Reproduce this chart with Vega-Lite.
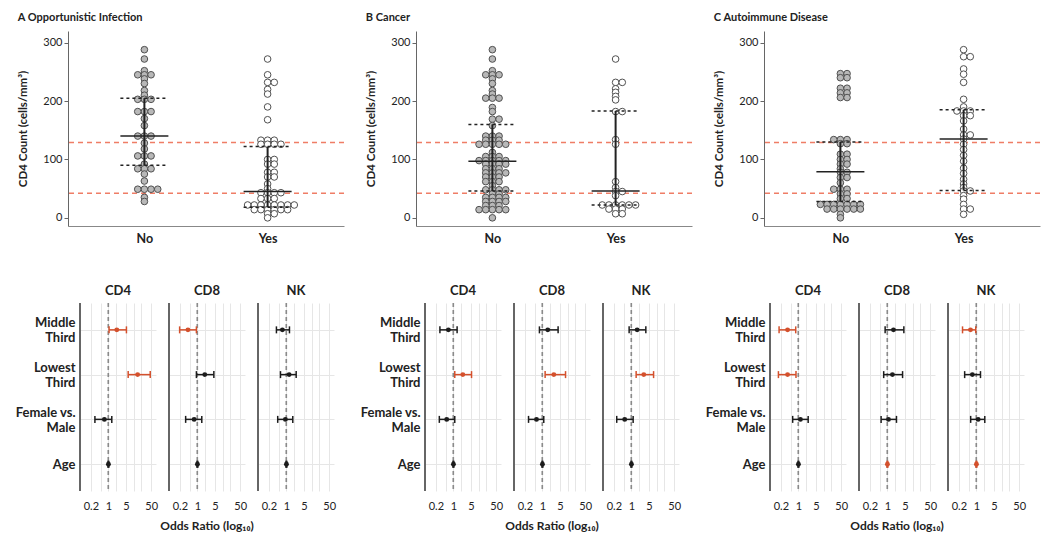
{
  "$schema": "https://vega.github.io/schema/vega-lite/v6.json",
  "background": "white",
  "padding": {"left": 14, "top": 12, "right": 5, "bottom": 5},
  "config": {
    "font": "Lato",
    "view": {"stroke": null},
    "axis": {"labelColor": "#222", "titleColor": "#222"},
    "title": {"color": "#222"}
  },
  "datasets": {
    "refs": [{"r": 129}, {"r": 42}],
    "summ": [
      {"p": "A", "g": "No", "med": 140, "q1": 90, "q3": 205},
      {"p": "A", "g": "Yes", "med": 45, "q1": 18, "q3": 122},
      {"p": "B", "g": "No", "med": 97, "q1": 46, "q3": 160},
      {"p": "B", "g": "Yes", "med": 46, "q1": 22, "q3": 183},
      {"p": "C", "g": "No", "med": 79, "q1": 28, "q3": 130},
      {"p": "C", "g": "Yes", "med": 135, "q1": 47, "q3": 185}
    ],
    "pts": [
      {"p":"A","g":"No","v":288},{"p":"A","g":"No","v":272},{"p":"A","g":"No","v":252},{"p":"A","g":"No","v":245},{"p":"A","g":"No","v":245},{"p":"A","g":"No","v":245},{"p":"A","g":"No","v":238},{"p":"A","g":"No","v":230},{"p":"A","g":"No","v":218},{"p":"A","g":"No","v":210},{"p":"A","g":"No","v":203},{"p":"A","g":"No","v":203},{"p":"A","g":"No","v":203},{"p":"A","g":"No","v":182},{"p":"A","g":"No","v":182},{"p":"A","g":"No","v":182},{"p":"A","g":"No","v":170},{"p":"A","g":"No","v":158},{"p":"A","g":"No","v":140},{"p":"A","g":"No","v":140},{"p":"A","g":"No","v":140},{"p":"A","g":"No","v":128},{"p":"A","g":"No","v":118},{"p":"A","g":"No","v":106},{"p":"A","g":"No","v":106},{"p":"A","g":"No","v":106},{"p":"A","g":"No","v":92},{"p":"A","g":"No","v":84},{"p":"A","g":"No","v":84},{"p":"A","g":"No","v":84},{"p":"A","g":"No","v":75},{"p":"A","g":"No","v":63},{"p":"A","g":"No","v":49},{"p":"A","g":"No","v":49},{"p":"A","g":"No","v":49},{"p":"A","g":"No","v":49},{"p":"A","g":"No","v":35},{"p":"A","g":"No","v":28},
      {"p":"A","g":"Yes","v":272},{"p":"A","g":"Yes","v":245},{"p":"A","g":"Yes","v":232},{"p":"A","g":"Yes","v":232},{"p":"A","g":"Yes","v":220},{"p":"A","g":"Yes","v":212},{"p":"A","g":"Yes","v":190},{"p":"A","g":"Yes","v":168},{"p":"A","g":"Yes","v":133},{"p":"A","g":"Yes","v":133},{"p":"A","g":"Yes","v":133},{"p":"A","g":"Yes","v":126},{"p":"A","g":"Yes","v":126},{"p":"A","g":"Yes","v":126},{"p":"A","g":"Yes","v":126},{"p":"A","g":"Yes","v":100},{"p":"A","g":"Yes","v":100},{"p":"A","g":"Yes","v":92},{"p":"A","g":"Yes","v":92},{"p":"A","g":"Yes","v":78},{"p":"A","g":"Yes","v":78},{"p":"A","g":"Yes","v":70},{"p":"A","g":"Yes","v":70},{"p":"A","g":"Yes","v":58},{"p":"A","g":"Yes","v":50},{"p":"A","g":"Yes","v":43},{"p":"A","g":"Yes","v":43},{"p":"A","g":"Yes","v":43},{"p":"A","g":"Yes","v":43},{"p":"A","g":"Yes","v":33},{"p":"A","g":"Yes","v":33},{"p":"A","g":"Yes","v":33},{"p":"A","g":"Yes","v":22},{"p":"A","g":"Yes","v":22},{"p":"A","g":"Yes","v":22},{"p":"A","g":"Yes","v":22},{"p":"A","g":"Yes","v":22},{"p":"A","g":"Yes","v":22},{"p":"A","g":"Yes","v":22},{"p":"A","g":"Yes","v":22},{"p":"A","g":"Yes","v":14},{"p":"A","g":"Yes","v":14},{"p":"A","g":"Yes","v":14},{"p":"A","g":"Yes","v":14},{"p":"A","g":"Yes","v":14},{"p":"A","g":"Yes","v":14},{"p":"A","g":"Yes","v":7},{"p":"A","g":"Yes","v":7},{"p":"A","g":"Yes","v":0},
      {"p":"B","g":"No","v":288},{"p":"B","g":"No","v":272},{"p":"B","g":"No","v":252},{"p":"B","g":"No","v":245},{"p":"B","g":"No","v":245},{"p":"B","g":"No","v":245},{"p":"B","g":"No","v":238},{"p":"B","g":"No","v":230},{"p":"B","g":"No","v":218},{"p":"B","g":"No","v":212},{"p":"B","g":"No","v":205},{"p":"B","g":"No","v":205},{"p":"B","g":"No","v":205},{"p":"B","g":"No","v":189},{"p":"B","g":"No","v":182},{"p":"B","g":"No","v":169},{"p":"B","g":"No","v":169},{"p":"B","g":"No","v":158},{"p":"B","g":"No","v":140},{"p":"B","g":"No","v":140},{"p":"B","g":"No","v":140},{"p":"B","g":"No","v":133},{"p":"B","g":"No","v":133},{"p":"B","g":"No","v":133},{"p":"B","g":"No","v":126},{"p":"B","g":"No","v":126},{"p":"B","g":"No","v":126},{"p":"B","g":"No","v":126},{"p":"B","g":"No","v":126},{"p":"B","g":"No","v":112},{"p":"B","g":"No","v":105},{"p":"B","g":"No","v":105},{"p":"B","g":"No","v":105},{"p":"B","g":"No","v":98},{"p":"B","g":"No","v":98},{"p":"B","g":"No","v":98},{"p":"B","g":"No","v":98},{"p":"B","g":"No","v":98},{"p":"B","g":"No","v":92},{"p":"B","g":"No","v":92},{"p":"B","g":"No","v":92},{"p":"B","g":"No","v":92},{"p":"B","g":"No","v":84},{"p":"B","g":"No","v":84},{"p":"B","g":"No","v":84},{"p":"B","g":"No","v":77},{"p":"B","g":"No","v":77},{"p":"B","g":"No","v":77},{"p":"B","g":"No","v":77},{"p":"B","g":"No","v":70},{"p":"B","g":"No","v":70},{"p":"B","g":"No","v":70},{"p":"B","g":"No","v":62},{"p":"B","g":"No","v":62},{"p":"B","g":"No","v":62},{"p":"B","g":"No","v":55},{"p":"B","g":"No","v":48},{"p":"B","g":"No","v":48},{"p":"B","g":"No","v":48},{"p":"B","g":"No","v":48},{"p":"B","g":"No","v":41},{"p":"B","g":"No","v":41},{"p":"B","g":"No","v":35},{"p":"B","g":"No","v":35},{"p":"B","g":"No","v":35},{"p":"B","g":"No","v":35},{"p":"B","g":"No","v":28},{"p":"B","g":"No","v":28},{"p":"B","g":"No","v":28},{"p":"B","g":"No","v":28},{"p":"B","g":"No","v":21},{"p":"B","g":"No","v":21},{"p":"B","g":"No","v":21},{"p":"B","g":"No","v":14},{"p":"B","g":"No","v":14},{"p":"B","g":"No","v":14},{"p":"B","g":"No","v":14},{"p":"B","g":"No","v":14},{"p":"B","g":"No","v":0},
      {"p":"B","g":"Yes","v":272},{"p":"B","g":"Yes","v":232},{"p":"B","g":"Yes","v":232},{"p":"B","g":"Yes","v":221},{"p":"B","g":"Yes","v":215},{"p":"B","g":"Yes","v":208},{"p":"B","g":"Yes","v":202},{"p":"B","g":"Yes","v":182},{"p":"B","g":"Yes","v":182},{"p":"B","g":"Yes","v":134},{"p":"B","g":"Yes","v":126},{"p":"B","g":"Yes","v":62},{"p":"B","g":"Yes","v":52},{"p":"B","g":"Yes","v":45},{"p":"B","g":"Yes","v":45},{"p":"B","g":"Yes","v":38},{"p":"B","g":"Yes","v":22},{"p":"B","g":"Yes","v":22},{"p":"B","g":"Yes","v":22},{"p":"B","g":"Yes","v":22},{"p":"B","g":"Yes","v":22},{"p":"B","g":"Yes","v":22},{"p":"B","g":"Yes","v":15},{"p":"B","g":"Yes","v":15},{"p":"B","g":"Yes","v":15},{"p":"B","g":"Yes","v":7},{"p":"B","g":"Yes","v":7},
      {"p":"C","g":"No","v":247},{"p":"C","g":"No","v":247},{"p":"C","g":"No","v":240},{"p":"C","g":"No","v":240},{"p":"C","g":"No","v":222},{"p":"C","g":"No","v":222},{"p":"C","g":"No","v":214},{"p":"C","g":"No","v":214},{"p":"C","g":"No","v":206},{"p":"C","g":"No","v":206},{"p":"C","g":"No","v":134},{"p":"C","g":"No","v":134},{"p":"C","g":"No","v":134},{"p":"C","g":"No","v":127},{"p":"C","g":"No","v":127},{"p":"C","g":"No","v":109},{"p":"C","g":"No","v":109},{"p":"C","g":"No","v":100},{"p":"C","g":"No","v":100},{"p":"C","g":"No","v":92},{"p":"C","g":"No","v":92},{"p":"C","g":"No","v":84},{"p":"C","g":"No","v":78},{"p":"C","g":"No","v":78},{"p":"C","g":"No","v":69},{"p":"C","g":"No","v":69},{"p":"C","g":"No","v":60},{"p":"C","g":"No","v":49},{"p":"C","g":"No","v":49},{"p":"C","g":"No","v":49},{"p":"C","g":"No","v":41},{"p":"C","g":"No","v":41},{"p":"C","g":"No","v":33},{"p":"C","g":"No","v":33},{"p":"C","g":"No","v":23},{"p":"C","g":"No","v":23},{"p":"C","g":"No","v":23},{"p":"C","g":"No","v":23},{"p":"C","g":"No","v":23},{"p":"C","g":"No","v":23},{"p":"C","g":"No","v":23},{"p":"C","g":"No","v":15},{"p":"C","g":"No","v":15},{"p":"C","g":"No","v":15},{"p":"C","g":"No","v":15},{"p":"C","g":"No","v":15},{"p":"C","g":"No","v":15},{"p":"C","g":"No","v":6},{"p":"C","g":"No","v":0},
      {"p":"C","g":"Yes","v":288},{"p":"C","g":"Yes","v":276},{"p":"C","g":"Yes","v":276},{"p":"C","g":"Yes","v":255},{"p":"C","g":"Yes","v":246},{"p":"C","g":"Yes","v":232},{"p":"C","g":"Yes","v":203},{"p":"C","g":"Yes","v":190},{"p":"C","g":"Yes","v":183},{"p":"C","g":"Yes","v":183},{"p":"C","g":"Yes","v":183},{"p":"C","g":"Yes","v":175},{"p":"C","g":"Yes","v":175},{"p":"C","g":"Yes","v":166},{"p":"C","g":"Yes","v":152},{"p":"C","g":"Yes","v":142},{"p":"C","g":"Yes","v":142},{"p":"C","g":"Yes","v":135},{"p":"C","g":"Yes","v":126},{"p":"C","g":"Yes","v":117},{"p":"C","g":"Yes","v":107},{"p":"C","g":"Yes","v":97},{"p":"C","g":"Yes","v":85},{"p":"C","g":"Yes","v":76},{"p":"C","g":"Yes","v":66},{"p":"C","g":"Yes","v":58},{"p":"C","g":"Yes","v":52},{"p":"C","g":"Yes","v":46},{"p":"C","g":"Yes","v":46},{"p":"C","g":"Yes","v":38},{"p":"C","g":"Yes","v":32},{"p":"C","g":"Yes","v":23},{"p":"C","g":"Yes","v":15},{"p":"C","g":"Yes","v":15},{"p":"C","g":"Yes","v":6}
    ],
    "forest": [
      {"p":"A","m":"CD4","t":"Middle Third","or":2.15,"lo":1.06,"hi":5.2,"s":"y"},
      {"p":"A","m":"CD4","t":"Lowest Third","or":14.5,"lo":6.1,"hi":46,"s":"y"},
      {"p":"A","m":"CD4","t":"Female vs. Male","or":0.69,"lo":0.29,"hi":1.36,"s":"n"},
      {"p":"A","m":"CD4","t":"Age","or":1.0,"lo":0.96,"hi":1.04,"s":"n"},
      {"p":"A","m":"CD8","t":"Middle Third","or":0.42,"lo":0.196,"hi":0.91,"s":"y"},
      {"p":"A","m":"CD8","t":"Lowest Third","or":1.96,"lo":0.91,"hi":4.5,"s":"n"},
      {"p":"A","m":"CD8","t":"Female vs. Male","or":0.74,"lo":0.34,"hi":1.49,"s":"n"},
      {"p":"A","m":"CD8","t":"Age","or":1.0,"lo":0.96,"hi":1.04,"s":"n"},
      {"p":"A","m":"NK","t":"Middle Third","or":0.69,"lo":0.4,"hi":1.32,"s":"n"},
      {"p":"A","m":"NK","t":"Lowest Third","or":1.28,"lo":0.58,"hi":2.44,"s":"n"},
      {"p":"A","m":"NK","t":"Female vs. Male","or":0.91,"lo":0.45,"hi":1.79,"s":"n"},
      {"p":"A","m":"NK","t":"Age","or":1.0,"lo":0.96,"hi":1.04,"s":"n"},
      {"p":"B","m":"CD4","t":"Middle Third","or":0.63,"lo":0.29,"hi":1.4,"s":"n"},
      {"p":"B","m":"CD4","t":"Lowest Third","or":2.36,"lo":1.13,"hi":5.25,"s":"y"},
      {"p":"B","m":"CD4","t":"Female vs. Male","or":0.54,"lo":0.275,"hi":1.13,"s":"n"},
      {"p":"B","m":"CD4","t":"Age","or":1.0,"lo":0.96,"hi":1.04,"s":"n"},
      {"p":"B","m":"CD8","t":"Middle Third","or":1.63,"lo":0.76,"hi":4.2,"s":"n"},
      {"p":"B","m":"CD8","t":"Lowest Third","or":2.84,"lo":1.28,"hi":8.3,"s":"y"},
      {"p":"B","m":"CD8","t":"Female vs. Male","or":0.58,"lo":0.28,"hi":1.13,"s":"n"},
      {"p":"B","m":"CD8","t":"Age","or":1.0,"lo":0.96,"hi":1.04,"s":"n"},
      {"p":"B","m":"NK","t":"Middle Third","or":1.69,"lo":0.81,"hi":3.74,"s":"n"},
      {"p":"B","m":"NK","t":"Lowest Third","or":3.1,"lo":1.54,"hi":7.6,"s":"y"},
      {"p":"B","m":"NK","t":"Female vs. Male","or":0.54,"lo":0.26,"hi":1.17,"s":"n"},
      {"p":"B","m":"NK","t":"Age","or":1.0,"lo":0.96,"hi":1.04,"s":"n"},
      {"p":"C","m":"CD4","t":"Middle Third","or":0.37,"lo":0.17,"hi":0.78,"s":"y"},
      {"p":"C","m":"CD4","t":"Lowest Third","or":0.37,"lo":0.16,"hi":0.8,"s":"y"},
      {"p":"C","m":"CD4","t":"Female vs. Male","or":1.2,"lo":0.59,"hi":2.44,"s":"n"},
      {"p":"C","m":"CD4","t":"Age","or":1.0,"lo":0.96,"hi":1.04,"s":"n"},
      {"p":"C","m":"CD8","t":"Middle Third","or":1.74,"lo":0.81,"hi":4.5,"s":"n"},
      {"p":"C","m":"CD8","t":"Lowest Third","or":1.58,"lo":0.71,"hi":4.0,"s":"n"},
      {"p":"C","m":"CD8","t":"Female vs. Male","or":1.1,"lo":0.56,"hi":2.29,"s":"n"},
      {"p":"C","m":"CD8","t":"Age","or":1.0,"lo":0.96,"hi":1.04,"s":"y"},
      {"p":"C","m":"NK","t":"Middle Third","or":0.58,"lo":0.28,"hi":0.94,"s":"y"},
      {"p":"C","m":"NK","t":"Lowest Third","or":0.69,"lo":0.34,"hi":1.45,"s":"n"},
      {"p":"C","m":"NK","t":"Female vs. Male","or":1.17,"lo":0.59,"hi":2.15,"s":"n"},
      {"p":"C","m":"NK","t":"Age","or":1.0,"lo":0.96,"hi":1.04,"s":"y"}
    ]
  },
  "spacing": 40,
  "vconcat": [
    {
      "spacing": 20,
      "hconcat": [
        {
          "width": 276, "height": 195,
          "title": {"text": "A  Opportunistic Infection", "anchor": "start", "frame": "bounds", "fontSize": 11, "fontWeight": "bold", "offset": 8},
          "layer": [
            {"data": {"name": "refs"}, "mark": {"type": "rule", "color": "#ef7d66", "strokeDash": [5, 4], "strokeWidth": 1.5}, "encoding": {"y": {"field": "r", "type": "quantitative", "title": "CD4 Count (cells/mm³)", "scale": {"domain": [-14, 320], "nice": false, "zero": false}}}},
            {"data": {"name": "pts"}, "transform": [{"filter": "datum.p == 'A'"}, {"window": [{"op": "row_number", "as": "rank"}], "groupby": ["g", "v"]}],
             "mark": {"type": "circle", "size": 44, "opacity": 1, "stroke": "#505050", "strokeWidth": 1},
             "encoding": {
               "x": {"field": "g", "type": "nominal", "title": null, "scale": {"type": "point", "padding": 0.62}, "axis": {"title": null, "labelFontSize": 12.5, "labelFontWeight": "bold", "ticks": false, "domainColor": "#888", "labelPadding": 6, "labelAngle": 0}},
               "xOffset": {"field": "rank", "type": "ordinal", "scale": {"type": "point", "domain": [9, 7, 5, 3, 1, 2, 4, 6, 8], "range": [-30, 30]}},
               "y": {"field": "v", "type": "quantitative", "title": "CD4 Count (cells/mm³)", "scale": {"domain": [-14, 320], "nice": false, "zero": false}, "axis": {"values": [0, 50, 100, 150, 200, 250, 300], "titleFontSize": 11.5, "titleFontWeight": "bold", "titlePadding": 14, "labelFontSize": 11, "tickSize": 4, "domainColor": "#666", "tickColor": "#666", "grid": false}},
               "fill": {"field": "g", "type": "nominal", "scale": {"domain": ["No", "Yes"], "range": ["#b8b8b8", "#ffffff"]}, "legend": null}
             }},
            {"data": {"name": "summ"}, "transform": [{"filter": "datum.p == 'A'"}], "mark": {"type": "rule", "color": "#222", "strokeWidth": 2}, "encoding": {"x": {"field": "g", "type": "nominal", "title": null}, "y": {"field": "q1", "type": "quantitative", "title": "CD4 Count (cells/mm³)"}, "y2": {"field": "q3"}}},
            {"data": {"name": "summ"}, "transform": [{"filter": "datum.p == 'A'"}], "mark": {"type": "rule", "color": "#222", "strokeWidth": 1.5, "xOffset": -24, "x2Offset": 24}, "encoding": {"x": {"field": "g", "type": "nominal", "title": null}, "x2": {"field": "g"}, "y": {"field": "med", "type": "quantitative", "title": "CD4 Count (cells/mm³)"}}},
            {"data": {"name": "summ"}, "transform": [{"filter": "datum.p == 'A'"}], "mark": {"type": "rule", "color": "#222", "strokeWidth": 1.5, "strokeDash": [3, 3], "xOffset": -24, "x2Offset": 24}, "encoding": {"x": {"field": "g", "type": "nominal", "title": null}, "x2": {"field": "g"}, "y": {"field": "q1", "type": "quantitative", "title": "CD4 Count (cells/mm³)"}}},
            {"data": {"name": "summ"}, "transform": [{"filter": "datum.p == 'A'"}], "mark": {"type": "rule", "color": "#222", "strokeWidth": 1.5, "strokeDash": [3, 3], "xOffset": -24, "x2Offset": 24}, "encoding": {"x": {"field": "g", "type": "nominal", "title": null}, "x2": {"field": "g"}, "y": {"field": "q3", "type": "quantitative", "title": "CD4 Count (cells/mm³)"}}}
          ]
        },
        {
          "width": 276, "height": 195,
          "title": {"text": "B  Cancer", "anchor": "start", "frame": "bounds", "fontSize": 11, "fontWeight": "bold", "offset": 8},
          "layer": [
            {"data": {"name": "refs"}, "mark": {"type": "rule", "color": "#ef7d66", "strokeDash": [5, 4], "strokeWidth": 1.5}, "encoding": {"y": {"field": "r", "type": "quantitative", "title": "CD4 Count (cells/mm³)", "scale": {"domain": [-14, 320], "nice": false, "zero": false}}}},
            {"data": {"name": "pts"}, "transform": [{"filter": "datum.p == 'B'"}, {"window": [{"op": "row_number", "as": "rank"}], "groupby": ["g", "v"]}],
             "mark": {"type": "circle", "size": 44, "opacity": 1, "stroke": "#505050", "strokeWidth": 1},
             "encoding": {
               "x": {"field": "g", "type": "nominal", "title": null, "scale": {"type": "point", "padding": 0.62}, "axis": {"title": null, "labelFontSize": 12.5, "labelFontWeight": "bold", "ticks": false, "domainColor": "#888", "labelPadding": 6, "labelAngle": 0}},
               "xOffset": {"field": "rank", "type": "ordinal", "scale": {"type": "point", "domain": [9, 7, 5, 3, 1, 2, 4, 6, 8], "range": [-30, 30]}},
               "y": {"field": "v", "type": "quantitative", "title": "CD4 Count (cells/mm³)", "scale": {"domain": [-14, 320], "nice": false, "zero": false}, "axis": {"values": [0, 50, 100, 150, 200, 250, 300], "titleFontSize": 11.5, "titleFontWeight": "bold", "titlePadding": 14, "labelFontSize": 11, "tickSize": 4, "domainColor": "#666", "tickColor": "#666", "grid": false}},
               "fill": {"field": "g", "type": "nominal", "scale": {"domain": ["No", "Yes"], "range": ["#b8b8b8", "#ffffff"]}, "legend": null}
             }},
            {"data": {"name": "summ"}, "transform": [{"filter": "datum.p == 'B'"}], "mark": {"type": "rule", "color": "#222", "strokeWidth": 2}, "encoding": {"x": {"field": "g", "type": "nominal", "title": null}, "y": {"field": "q1", "type": "quantitative", "title": "CD4 Count (cells/mm³)"}, "y2": {"field": "q3"}}},
            {"data": {"name": "summ"}, "transform": [{"filter": "datum.p == 'B'"}], "mark": {"type": "rule", "color": "#222", "strokeWidth": 1.5, "xOffset": -24, "x2Offset": 24}, "encoding": {"x": {"field": "g", "type": "nominal", "title": null}, "x2": {"field": "g"}, "y": {"field": "med", "type": "quantitative", "title": "CD4 Count (cells/mm³)"}}},
            {"data": {"name": "summ"}, "transform": [{"filter": "datum.p == 'B'"}], "mark": {"type": "rule", "color": "#222", "strokeWidth": 1.5, "strokeDash": [3, 3], "xOffset": -24, "x2Offset": 24}, "encoding": {"x": {"field": "g", "type": "nominal", "title": null}, "x2": {"field": "g"}, "y": {"field": "q1", "type": "quantitative", "title": "CD4 Count (cells/mm³)"}}},
            {"data": {"name": "summ"}, "transform": [{"filter": "datum.p == 'B'"}], "mark": {"type": "rule", "color": "#222", "strokeWidth": 1.5, "strokeDash": [3, 3], "xOffset": -24, "x2Offset": 24}, "encoding": {"x": {"field": "g", "type": "nominal", "title": null}, "x2": {"field": "g"}, "y": {"field": "q3", "type": "quantitative", "title": "CD4 Count (cells/mm³)"}}}
          ]
        },
        {
          "width": 276, "height": 195,
          "title": {"text": "C  Autoimmune Disease", "anchor": "start", "frame": "bounds", "fontSize": 11, "fontWeight": "bold", "offset": 8},
          "layer": [
            {"data": {"name": "refs"}, "mark": {"type": "rule", "color": "#ef7d66", "strokeDash": [5, 4], "strokeWidth": 1.5}, "encoding": {"y": {"field": "r", "type": "quantitative", "title": "CD4 Count (cells/mm³)", "scale": {"domain": [-14, 320], "nice": false, "zero": false}}}},
            {"data": {"name": "pts"}, "transform": [{"filter": "datum.p == 'C'"}, {"window": [{"op": "row_number", "as": "rank"}], "groupby": ["g", "v"]}],
             "mark": {"type": "circle", "size": 44, "opacity": 1, "stroke": "#505050", "strokeWidth": 1},
             "encoding": {
               "x": {"field": "g", "type": "nominal", "title": null, "scale": {"type": "point", "padding": 0.62}, "axis": {"title": null, "labelFontSize": 12.5, "labelFontWeight": "bold", "ticks": false, "domainColor": "#888", "labelPadding": 6, "labelAngle": 0}},
               "xOffset": {"field": "rank", "type": "ordinal", "scale": {"type": "point", "domain": [9, 7, 5, 3, 1, 2, 4, 6, 8], "range": [-30, 30]}},
               "y": {"field": "v", "type": "quantitative", "title": "CD4 Count (cells/mm³)", "scale": {"domain": [-14, 320], "nice": false, "zero": false}, "axis": {"values": [0, 50, 100, 150, 200, 250, 300], "titleFontSize": 11.5, "titleFontWeight": "bold", "titlePadding": 14, "labelFontSize": 11, "tickSize": 4, "domainColor": "#666", "tickColor": "#666", "grid": false}},
               "fill": {"field": "g", "type": "nominal", "scale": {"domain": ["No", "Yes"], "range": ["#b8b8b8", "#ffffff"]}, "legend": null}
             }},
            {"data": {"name": "summ"}, "transform": [{"filter": "datum.p == 'C'"}], "mark": {"type": "rule", "color": "#222", "strokeWidth": 2}, "encoding": {"x": {"field": "g", "type": "nominal", "title": null}, "y": {"field": "q1", "type": "quantitative", "title": "CD4 Count (cells/mm³)"}, "y2": {"field": "q3"}}},
            {"data": {"name": "summ"}, "transform": [{"filter": "datum.p == 'C'"}], "mark": {"type": "rule", "color": "#222", "strokeWidth": 1.5, "xOffset": -24, "x2Offset": 24}, "encoding": {"x": {"field": "g", "type": "nominal", "title": null}, "x2": {"field": "g"}, "y": {"field": "med", "type": "quantitative", "title": "CD4 Count (cells/mm³)"}}},
            {"data": {"name": "summ"}, "transform": [{"filter": "datum.p == 'C'"}], "mark": {"type": "rule", "color": "#222", "strokeWidth": 1.5, "strokeDash": [3, 3], "xOffset": -24, "x2Offset": 24}, "encoding": {"x": {"field": "g", "type": "nominal", "title": null}, "x2": {"field": "g"}, "y": {"field": "q1", "type": "quantitative", "title": "CD4 Count (cells/mm³)"}}},
            {"data": {"name": "summ"}, "transform": [{"filter": "datum.p == 'C'"}], "mark": {"type": "rule", "color": "#222", "strokeWidth": 1.5, "strokeDash": [3, 3], "xOffset": -24, "x2Offset": 24}, "encoding": {"x": {"field": "g", "type": "nominal", "title": null}, "x2": {"field": "g"}, "y": {"field": "q3", "type": "quantitative", "title": "CD4 Count (cells/mm³)"}}}
          ]
        }
      ]
    },
    {
      "spacing": -55,
      "hconcat": [
        {"width": 1, "height": 1, "data": {"values": []}, "mark": {"type": "point", "opacity": 0}, "encoding": {}},
        {
          "spacing": 23,
          "hconcat": [
            {
              "data": {"name": "forest"},
              "transform": [{"filter": "datum.p == 'A'"}],
              "facet": {"column": {"field": "m", "type": "nominal", "title": "Odds Ratio (log₁₀)", "header": {"titleOrient": "bottom", "titleFontSize": 12, "titleFontWeight": "bold", "titleColor": "#222", "titlePadding": 0, "labelOrient": "top", "labelFontSize": 13, "labelFontWeight": "bold", "labelPadding": 4, "labelColor": "#222"}}},
              "spacing": 12,
              "spec": {
                "width": 76, "height": 188,
                "layer": [
                  {"mark": {"type": "rule", "color": "#666", "strokeWidth": 2}, "encoding": {"x": {"datum": 0.074, "type": "quantitative", "title": null}}},
                  {"mark": {"type": "rule", "color": "#8a8a8a", "strokeDash": [4, 3], "strokeWidth": 1.2}, "encoding": {"x": {"datum": 1, "type": "quantitative", "title": null}}},
                  {"mark": {"type": "rule", "strokeWidth": 1.5}, "encoding": {
                    "x": {"field": "lo", "type": "quantitative", "title": null, "scale": {"type": "log", "domain": [0.074, 78], "nice": false}, "axis": {"values": [0.2, 0.5, 1, 2, 5, 10, 20, 50], "format": "~g", "labelExpr": "indexof([0.2, 1, 5, 50], datum.value) >= 0 ? datum.label : ''", "grid": true, "gridColor": "#e6e6e6", "domain": false, "ticks": false, "labelFontSize": 11, "labelPadding": 8, "labelFlush": false, "labelOverlap": false}},
                    "x2": {"field": "hi"},
                    "y": {"field": "t", "type": "nominal", "title": null, "sort": ["Middle Third", "Lowest Third", "Female vs. Male", "Age"], "scale": {"type": "point", "padding": 0.6}, "axis": {"domain": false, "ticks": false, "labelFontSize": 13, "labelFontWeight": "bold", "labelPadding": 4, "labelLineHeight": 15, "labelOffset": {"condition": {"test": "datum.value != 'Age'", "value": -7}, "value": 0}, "labelExpr": "datum.value == 'Middle Third' ? ['Middle', 'Third'] : datum.value == 'Lowest Third' ? ['Lowest', 'Third'] : datum.value == 'Female vs. Male' ? ['Female vs.', 'Male'] : datum.value", "grid": true, "gridColor": "#e6e6e6"}},
                    "color": {"field": "s", "type": "nominal", "scale": {"domain": ["n", "y"], "range": ["#1c1c1c", "#d4502c"]}, "legend": null}}},
                  {"mark": {"type": "tick", "thickness": 1.5, "size": 7, "opacity": 1}, "encoding": {"x": {"field": "lo", "type": "quantitative", "title": null}, "y": {"field": "t", "type": "nominal", "title": null, "sort": ["Middle Third", "Lowest Third", "Female vs. Male", "Age"]}, "color": {"field": "s", "type": "nominal", "legend": null}}},
                  {"mark": {"type": "tick", "thickness": 1.5, "size": 7, "opacity": 1}, "encoding": {"x": {"field": "hi", "type": "quantitative", "title": null}, "y": {"field": "t", "type": "nominal", "title": null, "sort": ["Middle Third", "Lowest Third", "Female vs. Male", "Age"]}, "color": {"field": "s", "type": "nominal", "legend": null}}},
                  {"mark": {"type": "circle", "size": 24, "opacity": 1}, "encoding": {"x": {"field": "or", "type": "quantitative", "title": null}, "y": {"field": "t", "type": "nominal", "title": null, "sort": ["Middle Third", "Lowest Third", "Female vs. Male", "Age"]}, "color": {"field": "s", "type": "nominal", "legend": null}}}
                ]
              }
            },
            {
              "data": {"name": "forest"},
              "transform": [{"filter": "datum.p == 'B'"}],
              "facet": {"column": {"field": "m", "type": "nominal", "title": "Odds Ratio (log₁₀)", "header": {"titleOrient": "bottom", "titleFontSize": 12, "titleFontWeight": "bold", "titleColor": "#222", "titlePadding": 0, "labelOrient": "top", "labelFontSize": 13, "labelFontWeight": "bold", "labelPadding": 4, "labelColor": "#222"}}},
              "spacing": 12,
              "spec": {
                "width": 76, "height": 188,
                "layer": [
                  {"mark": {"type": "rule", "color": "#666", "strokeWidth": 2}, "encoding": {"x": {"datum": 0.074, "type": "quantitative", "title": null}}},
                  {"mark": {"type": "rule", "color": "#8a8a8a", "strokeDash": [4, 3], "strokeWidth": 1.2}, "encoding": {"x": {"datum": 1, "type": "quantitative", "title": null}}},
                  {"mark": {"type": "rule", "strokeWidth": 1.5}, "encoding": {
                    "x": {"field": "lo", "type": "quantitative", "title": null, "scale": {"type": "log", "domain": [0.074, 78], "nice": false}, "axis": {"values": [0.2, 0.5, 1, 2, 5, 10, 20, 50], "format": "~g", "labelExpr": "indexof([0.2, 1, 5, 50], datum.value) >= 0 ? datum.label : ''", "grid": true, "gridColor": "#e6e6e6", "domain": false, "ticks": false, "labelFontSize": 11, "labelPadding": 8, "labelFlush": false, "labelOverlap": false}},
                    "x2": {"field": "hi"},
                    "y": {"field": "t", "type": "nominal", "title": null, "sort": ["Middle Third", "Lowest Third", "Female vs. Male", "Age"], "scale": {"type": "point", "padding": 0.6}, "axis": {"domain": false, "ticks": false, "labelFontSize": 13, "labelFontWeight": "bold", "labelPadding": 4, "labelLineHeight": 15, "labelOffset": {"condition": {"test": "datum.value != 'Age'", "value": -7}, "value": 0}, "labelExpr": "datum.value == 'Middle Third' ? ['Middle', 'Third'] : datum.value == 'Lowest Third' ? ['Lowest', 'Third'] : datum.value == 'Female vs. Male' ? ['Female vs.', 'Male'] : datum.value", "grid": true, "gridColor": "#e6e6e6"}},
                    "color": {"field": "s", "type": "nominal", "scale": {"domain": ["n", "y"], "range": ["#1c1c1c", "#d4502c"]}, "legend": null}}},
                  {"mark": {"type": "tick", "thickness": 1.5, "size": 7, "opacity": 1}, "encoding": {"x": {"field": "lo", "type": "quantitative", "title": null}, "y": {"field": "t", "type": "nominal", "title": null, "sort": ["Middle Third", "Lowest Third", "Female vs. Male", "Age"]}, "color": {"field": "s", "type": "nominal", "legend": null}}},
                  {"mark": {"type": "tick", "thickness": 1.5, "size": 7, "opacity": 1}, "encoding": {"x": {"field": "hi", "type": "quantitative", "title": null}, "y": {"field": "t", "type": "nominal", "title": null, "sort": ["Middle Third", "Lowest Third", "Female vs. Male", "Age"]}, "color": {"field": "s", "type": "nominal", "legend": null}}},
                  {"mark": {"type": "circle", "size": 24, "opacity": 1}, "encoding": {"x": {"field": "or", "type": "quantitative", "title": null}, "y": {"field": "t", "type": "nominal", "title": null, "sort": ["Middle Third", "Lowest Third", "Female vs. Male", "Age"]}, "color": {"field": "s", "type": "nominal", "legend": null}}}
                ]
              }
            },
            {
              "data": {"name": "forest"},
              "transform": [{"filter": "datum.p == 'C'"}],
              "facet": {"column": {"field": "m", "type": "nominal", "title": "Odds Ratio (log₁₀)", "header": {"titleOrient": "bottom", "titleFontSize": 12, "titleFontWeight": "bold", "titleColor": "#222", "titlePadding": 0, "labelOrient": "top", "labelFontSize": 13, "labelFontWeight": "bold", "labelPadding": 4, "labelColor": "#222"}}},
              "spacing": 12,
              "spec": {
                "width": 76, "height": 188,
                "layer": [
                  {"mark": {"type": "rule", "color": "#666", "strokeWidth": 2}, "encoding": {"x": {"datum": 0.074, "type": "quantitative", "title": null}}},
                  {"mark": {"type": "rule", "color": "#8a8a8a", "strokeDash": [4, 3], "strokeWidth": 1.2}, "encoding": {"x": {"datum": 1, "type": "quantitative", "title": null}}},
                  {"mark": {"type": "rule", "strokeWidth": 1.5}, "encoding": {
                    "x": {"field": "lo", "type": "quantitative", "title": null, "scale": {"type": "log", "domain": [0.074, 78], "nice": false}, "axis": {"values": [0.2, 0.5, 1, 2, 5, 10, 20, 50], "format": "~g", "labelExpr": "indexof([0.2, 1, 5, 50], datum.value) >= 0 ? datum.label : ''", "grid": true, "gridColor": "#e6e6e6", "domain": false, "ticks": false, "labelFontSize": 11, "labelPadding": 8, "labelFlush": false, "labelOverlap": false}},
                    "x2": {"field": "hi"},
                    "y": {"field": "t", "type": "nominal", "title": null, "sort": ["Middle Third", "Lowest Third", "Female vs. Male", "Age"], "scale": {"type": "point", "padding": 0.6}, "axis": {"domain": false, "ticks": false, "labelFontSize": 13, "labelFontWeight": "bold", "labelPadding": 4, "labelLineHeight": 15, "labelOffset": {"condition": {"test": "datum.value != 'Age'", "value": -7}, "value": 0}, "labelExpr": "datum.value == 'Middle Third' ? ['Middle', 'Third'] : datum.value == 'Lowest Third' ? ['Lowest', 'Third'] : datum.value == 'Female vs. Male' ? ['Female vs.', 'Male'] : datum.value", "grid": true, "gridColor": "#e6e6e6"}},
                    "color": {"field": "s", "type": "nominal", "scale": {"domain": ["n", "y"], "range": ["#1c1c1c", "#d4502c"]}, "legend": null}}},
                  {"mark": {"type": "tick", "thickness": 1.5, "size": 7, "opacity": 1}, "encoding": {"x": {"field": "lo", "type": "quantitative", "title": null}, "y": {"field": "t", "type": "nominal", "title": null, "sort": ["Middle Third", "Lowest Third", "Female vs. Male", "Age"]}, "color": {"field": "s", "type": "nominal", "legend": null}}},
                  {"mark": {"type": "tick", "thickness": 1.5, "size": 7, "opacity": 1}, "encoding": {"x": {"field": "hi", "type": "quantitative", "title": null}, "y": {"field": "t", "type": "nominal", "title": null, "sort": ["Middle Third", "Lowest Third", "Female vs. Male", "Age"]}, "color": {"field": "s", "type": "nominal", "legend": null}}},
                  {"mark": {"type": "circle", "size": 24, "opacity": 1}, "encoding": {"x": {"field": "or", "type": "quantitative", "title": null}, "y": {"field": "t", "type": "nominal", "title": null, "sort": ["Middle Third", "Lowest Third", "Female vs. Male", "Age"]}, "color": {"field": "s", "type": "nominal", "legend": null}}}
                ]
              }
            }
          ]
        }
      ]
    }
  ]
}
